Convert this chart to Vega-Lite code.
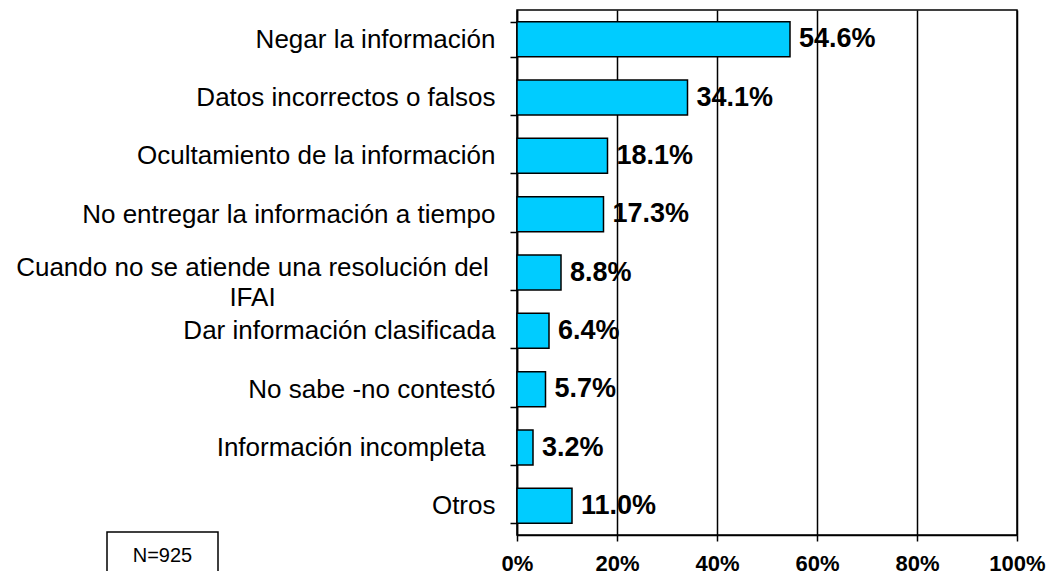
{
  "$schema": "https://vega.github.io/schema/vega-lite/v6.json",
  "width": 500,
  "height": 525,
  "autosize": {"type": "none"},
  "padding": {"left": 517, "top": 10, "right": 35, "bottom": 36},
  "background": "white",
  "config": {
    "view": {"stroke": "black", "strokeWidth": 1.5},
    "font": "Liberation Sans"
  },
  "layer": [
    {
      "data": {
        "values": [
          {"cat": "Negar la información", "pct": 0.546},
          {"cat": "Datos incorrectos o falsos", "pct": 0.341},
          {"cat": "Ocultamiento de la información", "pct": 0.181},
          {"cat": "No entregar la información a tiempo", "pct": 0.173},
          {"cat": "Cuando no se atiende una resolución del IFAI", "pct": 0.088},
          {"cat": "Dar información clasificada", "pct": 0.064},
          {"cat": "No sabe -no contestó", "pct": 0.057},
          {"cat": "Información incompleta", "pct": 0.032},
          {"cat": "Otros", "pct": 0.11}
        ]
      },
      "encoding": {
        "y": {
          "field": "cat",
          "type": "nominal",
          "sort": null,
          "scale": {"paddingInner": 0.4, "paddingOuter": 0.2},
          "axis": {
            "title": null,
            "domainColor": "black",
            "domainWidth": 1.5,
            "tickColor": "black",
            "tickWidth": 1.5,
            "tickSize": 7,
            "tickBand": "extent",
            "labelFont": "Liberation Sans",
            "labelFontSize": 26,
            "labelColor": "black",
            "labelLimit": 700,
            "labelLineHeight": 30,
            "labelExpr": "datum.value == 'Cuando no se atiende una resolución del IFAI' ? ['Cuando no se atiende una resolución del', 'IFAI'] : datum.value",
            "labelAlign": {"condition": {"test": "datum.value == 'Cuando no se atiende una resolución del IFAI'", "value": "center"}, "value": "right"},
            "labelPadding": {"condition": [{"test": "datum.value == 'Cuando no se atiende una resolución del IFAI'", "value": 258}, {"test": "datum.value == 'Información incompleta'", "value": 25}], "value": 15},
            "labelOffset": {"condition": {"test": "datum.value == 'Cuando no se atiende una resolución del IFAI'", "value": -5}, "value": 0}
          }
        },
        "x": {
          "field": "pct",
          "type": "quantitative",
          "scale": {"domain": [0, 1], "nice": false},
          "axis": {
            "title": null,
            "values": [0, 0.2, 0.4, 0.6, 0.8, 1],
            "format": "%",
            "grid": true,
            "gridColor": "black",
            "gridWidth": 1.5,
            "gridOpacity": 1,
            "domainColor": "black",
            "domainWidth": 1.5,
            "tickColor": "black",
            "tickWidth": 1.5,
            "tickSize": 6,
            "labelFont": "Liberation Sans",
            "labelFontSize": 22,
            "labelFontWeight": "bold",
            "labelColor": "black",
            "labelPadding": 12,
            "labelFlush": false
          }
        }
      },
      "layer": [
        {
          "mark": {"type": "bar", "fill": "#00CCFF", "stroke": "black", "strokeWidth": 1.5}
        },
        {
          "mark": {"type": "text", "align": "left", "baseline": "middle", "dx": 9, "fontSize": 27, "fontWeight": "bold", "font": "Liberation Sans", "color": "black"},
          "encoding": {"text": {"field": "pct", "type": "quantitative", "format": ".1%"}}
        }
      ]
    },
    {
      "data": {"values": [{"label": "N=925", "x1": -0.82, "x2": -0.598, "xm": -0.709, "y1": 0.05, "y2": -0.8, "ym": -0.46}]},
      "layer": [
        {
          "mark": {"type": "rect", "fill": "white", "stroke": "black", "strokeWidth": 1.5},
          "encoding": {
            "x": {"field": "x1", "type": "quantitative"},
            "x2": {"field": "x2"},
            "y": {"field": "y1", "type": "quantitative", "scale": {"domain": [0, 9], "nice": false}, "axis": null},
            "y2": {"field": "y2"}
          }
        },
        {
          "mark": {"type": "text", "align": "center", "baseline": "alphabetic", "fontSize": 20, "font": "Liberation Sans", "color": "black"},
          "encoding": {
            "x": {"field": "xm", "type": "quantitative"},
            "y": {"field": "ym", "type": "quantitative", "scale": {"domain": [0, 9], "nice": false}, "axis": null},
            "text": {"field": "label"}
          }
        }
      ]
    }
  ],
  "resolve": {"scale": {"y": "independent"}, "axis": {"y": "independent"}}
}
